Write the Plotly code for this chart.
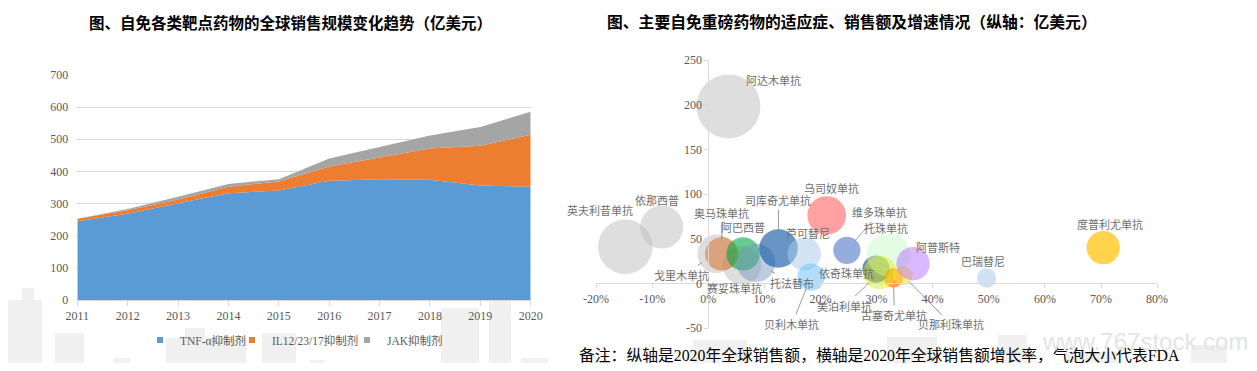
import math
import plotly.graph_objects as go

# window is 1257x371; the page body keeps its default 8px margin, so the figure is
# sized to fit inside it without overflow
WIN_W, WIN_H = 1257, 371
OFF = 8
W, H = WIN_W - 2 * OFF, WIN_H - 2 * OFF

# ---------------- Left chart data (亿美元) ----------------
years = [2011, 2012, 2013, 2014, 2015, 2016, 2017, 2018, 2019, 2020]
tnf_sales = [245, 268, 301, 332, 341, 371, 376, 374, 356, 352]
il_sales = [8, 11, 12, 20, 28, 44, 67, 97, 124, 162]
jak_sales = [0, 4, 8, 9, 7, 25, 33, 41, 58, 72]
series_names = ["TNF-α抑制剂", "IL12/23/17抑制剂", "JAK抑制剂"]
left_yticks = [0, 100, 200, 300, 400, 500, 600, 700]

# ---------------- Right chart data ----------------
drugs = ["阿达木单抗", "英夫利昔单抗", "依那西普", "戈里木单抗", "赛妥珠单抗",
         "奥马珠单抗", "阿巴西普", "托法替布", "司库奇尤单抗", "乌司奴单抗",
         "芦可替尼", "贝利木单抗", "维多珠单抗", "依奇珠单抗", "托珠单抗",
         "古塞奇尤单抗", "美泊利单抗", "贝那利珠单抗", "阿普斯特", "巴瑞替尼",
         "度普利尤单抗"]
growth_2020 = [0.036, -0.148, -0.083, 0.015, 0.060,
               0.024, 0.062, 0.085, 0.125, 0.211,
               0.171, 0.183, 0.247, 0.299, 0.321,
               0.330, 0.306, 0.347, 0.365, 0.496,
               0.704]
sales_2020 = [198, 41, 63, 33, 20,
              33, 33, 23, 39, 76,
              33, 7, 37, 16, 32,
              6, 12, 9, 22, 6,
              40]
indications = [11, 8, 5, 4, 4,
               3, 3, 4, 4, 4,
               3, 2, 2, 2, 5,
               1, 3, 1, 3, 1,
               3]
right_xticks = [-0.2, -0.1, 0.0, 0.1, 0.2, 0.3, 0.4, 0.5, 0.6, 0.7, 0.8]
right_yticks = [-50, 0, 50, 100, 150, 200, 250]

# ---------------- Styles ----------------
left_colors = ["#5B9BD5", "#ED7D31", "#A5A5A5"]
legend_left_px = [140, 232, 347]   # left edge of each legend box (window px)
bubble_colors = {
    "阿达木单抗": "rgba(190,190,190,0.72)",
    "英夫利昔单抗": "rgba(190,190,190,0.72)",
    "依那西普": "rgba(190,190,190,0.72)",
    "戈里木单抗": "rgba(190,190,190,0.72)",
    "赛妥珠单抗": "rgba(190,190,190,0.72)",
    "奥马珠单抗": "rgba(214,112,44,0.78)",
    "阿巴西普": "rgba(0,170,70,0.85)",
    "托法替布": "rgba(120,150,190,0.7)",
    "司库奇尤单抗": "rgba(20,90,165,0.92)",
    "乌司奴单抗": "rgba(255,70,70,0.72)",
    "芦可替尼": "rgba(170,202,235,0.75)",
    "贝利木单抗": "rgba(110,195,250,0.78)",
    "维多珠单抗": "rgba(60,105,190,0.78)",
    "依奇珠单抗": "rgba(20,80,160,0.95)",
    "托珠单抗": "rgba(200,250,200,0.72)",
    "古塞奇尤单抗": "rgba(255,110,0,0.95)",
    "美泊利单抗": "rgba(225,238,20,0.7)",
    "贝那利珠单抗": "rgba(255,230,50,0.8)",
    "阿普斯特": "rgba(178,110,250,0.7)",
    "巴瑞替尼": "rgba(170,202,235,0.8)",
    "度普利尤单抗": "rgba(255,192,0,1)",
}
# label offsets from bubble centre in screen px (dx, dy), and whether a leader line is drawn
label_pos = {
    "阿达木单抗": (45, -26, False),
    "英夫利昔单抗": (-25, -37, False),
    "依那西普": (-5, -27, False),
    "戈里木单抗": (-35, 21, True),
    "赛妥珠单抗": (-7, 23, False),
    "奥马珠单抗": (0, -41, True),
    "阿巴西普": (0, -27, False),
    "托法替布": (36, 20, True),
    "司库奇尤单抗": (0, -48, True),
    "乌司奴单抗": (5, -27, False),
    "芦可替尼": (4, -21, False),
    "贝利木单抗": (-19, 47, True),
    "维多珠单抗": (33, -38, True),
    "依奇珠单抗": (-30, 4, False),
    "托珠单抗": (-2, -27, False),
    "古塞奇尤单抗": (1, 37, True),
    "美泊利单抗": (-35, 33, True),
    "贝那利珠单抗": (48, 49, True),
    "阿普斯特": (25, -17, False),
    "巴瑞替尼": (-4, -17, False),
    "度普利尤单抗": (7, -24, False),
}
R2_PER_UNIT = 93.0  # bubble radius^2 (px^2) per indication

SERIF = "Liberation Serif, Noto Sans CJK SC"
CJK = "Noto Sans CJK SC"
TICK_COLOR = "#595959"
AXIS_COLOR = "#D9D9D9"

# frames (window pixels)
L_X0, L_X1, L_YB, L_YT = 77.3, 530.7, 300.0, 75.0
R_X0, R_X1, R_YB, R_YT = 596.1, 1157.1, 328.0, 60.0


def px_to_xfrac(p):
    return (p - OFF) / W


def px_to_yfrac(p):
    return (H - (p - OFF)) / H


fig = go.Figure()

legend_ids = ["legend", "legend2", "legend3"]

# ---- left stacked area
for name, vals, col in zip(series_names, [tnf_sales, il_sales, jak_sales], left_colors):
    fig.add_trace(go.Scatter(
        x=years, y=vals, name=name, stackgroup="one", mode="lines",
        line=dict(width=0, color=col), fillcolor=col, showlegend=False,
        legendgroup=name, xaxis="x", yaxis="y", hoverinfo="x+y+name"))
for name, col, lg in zip(series_names, left_colors, legend_ids):
    fig.add_trace(go.Scatter(
        x=[None], y=[None], name=name, mode="markers",
        marker=dict(symbol="square", size=6, color=col),
        legendgroup=name, legend=lg, xaxis="x", yaxis="y"))

# ---- right bubbles
fig.add_trace(go.Scatter(
    x=growth_2020, y=sales_2020, mode="markers", text=drugs, hoverinfo="text+x+y",
    marker=dict(size=indications, sizemode="area", sizeref=1.0 / (2 * R2_PER_UNIT),
                color=[bubble_colors[d] for d in drugs], line=dict(width=0)),
    xaxis="x2", yaxis="y2", showlegend=False))

# axis positions for crossing at zero
yr = [right_yticks[0], right_yticks[-1]]
xr = [right_xticks[0], right_xticks[-1]]
yd = [px_to_yfrac(R_YB), px_to_yfrac(R_YT)]
xd = [px_to_xfrac(R_X0), px_to_xfrac(R_X1)]
x_axis_pos = yd[0] + (yd[1] - yd[0]) * (0 - yr[0]) / (yr[1] - yr[0])
y_axis_pos = xd[0] + (xd[1] - xd[0]) * (0 - xr[0]) / (xr[1] - xr[0])

tickfont = dict(family=SERIF, size=12, color=TICK_COLOR)

legend_style = dict(orientation="h", xanchor="left", yanchor="middle", itemwidth=30,
                    font=dict(family=SERIF, size=11.5, color=TICK_COLOR),
                    bgcolor="rgba(0,0,0,0)", borderwidth=0)

fig.update_layout(
    width=W, height=H, margin=dict(l=0, r=0, t=0, b=0, autoexpand=False),
    paper_bgcolor="white", plot_bgcolor="rgba(0,0,0,0)",
    xaxis=dict(domain=[px_to_xfrac(L_X0), px_to_xfrac(L_X1)], range=[years[0], years[-1]],
               anchor="y", tickvals=years, ticks="outside", ticklen=5, tickcolor=AXIS_COLOR,
               showline=True, linecolor=AXIS_COLOR, showgrid=False, zeroline=False,
               tickfont=tickfont, automargin=False),
    yaxis=dict(domain=[px_to_yfrac(L_YB), px_to_yfrac(L_YT)], range=[left_yticks[0], left_yticks[-1]],
               anchor="x", tickvals=left_yticks, showgrid=True, gridcolor=AXIS_COLOR,
               zeroline=False, showline=False, ticks="", ticklabelstandoff=8, tickfont=tickfont,
               automargin=False),
    xaxis2=dict(domain=xd, range=xr, anchor="free", position=x_axis_pos,
                tickvals=right_xticks, ticktext=[f"{round(v * 100)}%" for v in right_xticks],
                ticks="outside", ticklen=4, tickcolor=AXIS_COLOR, showline=True,
                linecolor=AXIS_COLOR, showgrid=False, zeroline=False, tickfont=tickfont,
                automargin=False),
    yaxis2=dict(domain=yd, range=yr, anchor="free", position=y_axis_pos,
                tickvals=right_yticks, ticktext=[str(v) for v in right_yticks],
                ticks="outside", ticklen=4, tickcolor=AXIS_COLOR, showline=True,
                linecolor=AXIS_COLOR, showgrid=False, zeroline=False, tickfont=tickfont,
                automargin=False),
    showlegend=True,
)
for lg, lx in zip(legend_ids, legend_left_px):
    fig.update_layout({lg: dict(x=px_to_xfrac(lx), y=px_to_yfrac(340), **legend_style)})

annotations = []
# titles
annotations.append(dict(text="<b>图、自免各类靶点药物的全球销售规模变化趋势（亿美元）</b>",
                        x=px_to_xfrac(290.5), y=px_to_yfrac(22), xref="paper", yref="paper",
                        showarrow=False, font=dict(family=CJK, size=15.5, color="black"),
                        xanchor="center", yanchor="middle"))
annotations.append(dict(text="<b>图、主要自免重磅药物的适应症、销售额及增速情况（纵轴：亿美元）</b>",
                        x=px_to_xfrac(852), y=px_to_yfrac(22), xref="paper", yref="paper",
                        showarrow=False, font=dict(family=CJK, size=15.8, color="black"),
                        xanchor="center", yanchor="middle"))
# footnote
annotations.append(dict(text="备注：纵轴是2020年全球销售额，横轴是2020年全球销售额增长率，气泡大小代表FDA",
                        x=px_to_xfrac(879.5), y=px_to_yfrac(355), xref="paper", yref="paper",
                        showarrow=False, font=dict(family=SERIF, size=15.8, color="black"),
                        xanchor="center", yanchor="middle"))
# watermark
annotations.append(dict(text="www.767stock.com", x=px_to_xfrac(1040), y=px_to_yfrac(341),
                        xref="paper", yref="paper", showarrow=False, xanchor="left", yanchor="middle",
                        font=dict(family="Liberation Sans", size=24, color="#E4E4E4")))

# bubble labels
label_font = dict(family=CJK, size=11, color="#6E6E6E")
for d, gx, sy, n in zip(drugs, growth_2020, sales_2020, indications):
    dx, dy, arrow = label_pos[d]
    r = math.sqrt(n * R2_PER_UNIT)
    if arrow:
        annotations.append(dict(text=d, x=gx, y=sy, xref="x2", yref="y2", showarrow=True,
                                ax=dx, ay=dy, arrowhead=0, arrowwidth=0.8, arrowcolor="#808080",
                                standoff=r * 0.9, font=label_font))
    else:
        annotations.append(dict(text=d, x=gx, y=sy, xref="x2", yref="y2", showarrow=False,
                                xshift=dx, yshift=-dy, font=label_font))
fig.update_layout(annotations=annotations)

# faint city-silhouette background decoration (window pixels)
city = [(8, 42, 300), (22, 34, 288), (55, 84, 333), (114, 130, 358), (166, 246, 338),
        (185, 205, 328), (262, 296, 333), (310, 325, 360), (441, 479, 308), (489, 511, 300),
        (521, 548, 358), (693, 747, 340), (887, 937, 337), (998, 1027, 335), (1064, 1116, 352),
        (1191, 1227, 345)]
shapes = []
for x0, x1, top in city:
    shapes.append(dict(type="rect", xref="paper", yref="paper", layer="below",
                       x0=max(px_to_xfrac(x0), 0), x1=px_to_xfrac(x1), y0=0, y1=px_to_yfrac(top),
                       fillcolor="#F0F0F0", line=dict(width=0)))
fig.update_layout(shapes=shapes)

fig.write_html("out.html", config={"displayModeBar": False})
